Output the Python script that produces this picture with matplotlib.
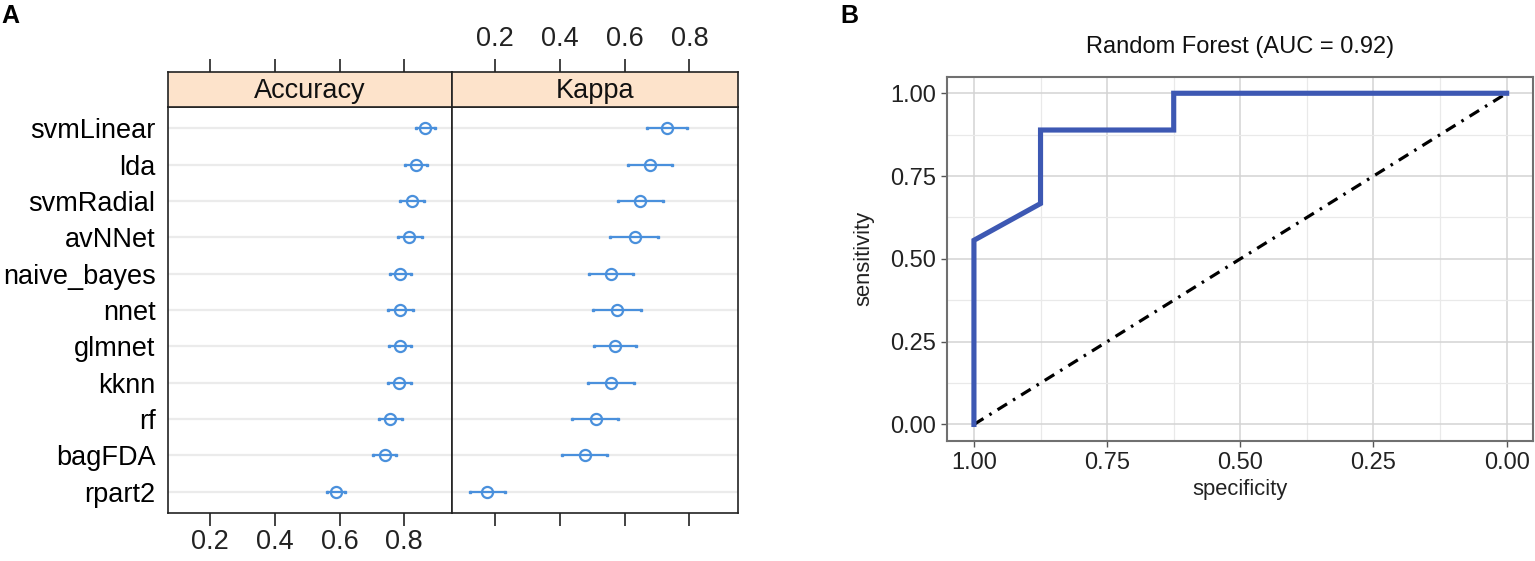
import matplotlib
matplotlib.use("Agg")
import matplotlib.pyplot as plt
from matplotlib.ticker import MultipleLocator

plt.rcParams['font.family'] = ['Liberation Sans', 'DejaVu Sans']

# ---------------- data ----------------
models = ["svmLinear", "lda", "svmRadial", "avNNet", "naive_bayes", "nnet",
          "glmnet", "kknn", "rf", "bagFDA", "rpart2"]
acc_mean = [0.865, 0.838, 0.824, 0.816, 0.788, 0.788, 0.786, 0.784, 0.755, 0.740, 0.590]
acc_low = [0.837, 0.804, 0.787, 0.780, 0.755, 0.750, 0.754, 0.750, 0.721, 0.703, 0.562]
acc_high = [0.896, 0.872, 0.860, 0.854, 0.822, 0.827, 0.821, 0.821, 0.793, 0.775, 0.617]
kap_mean = [0.731, 0.678, 0.649, 0.631, 0.559, 0.577, 0.572, 0.558, 0.511, 0.477, 0.176]
kap_low = [0.670, 0.610, 0.579, 0.556, 0.492, 0.504, 0.507, 0.488, 0.438, 0.406, 0.123]
kap_high = [0.793, 0.746, 0.719, 0.702, 0.626, 0.650, 0.636, 0.629, 0.581, 0.547, 0.232]
metric_names = ["Accuracy", "Kappa"]
metric_ticks = [0.2, 0.4, 0.6, 0.8]

roc_specificity = [1.0, 1.0, 0.875, 0.875, 0.625, 0.625, 0.0]
roc_sensitivity = [0.0, 0.556, 0.667, 0.889, 0.889, 1.0, 1.0]
roc_title = "Random Forest (AUC = 0.92)"
roc_ticks = [0.0, 0.25, 0.5, 0.75, 1.0]

# ---------------- figure ----------------
W, H = 1535, 561
fig = plt.figure(figsize=(W / 100, H / 100), dpi=100)


def fx(px):
    return px / W


def fy(py):
    return 1 - py / H


FS = 19.5
PT_COL = '#4a90dc'
STRIP_COL = '#fde3cb'

panel_x = [(168, 452.3), (452.3, 737.7)]
panel_top, panel_bot = 106.7, 513.3
strip_top = 71.7
xlim = (0.069, 0.949)
n = len(models)
ypos = list(range(1, n + 1))

series = [(acc_mean, acc_low, acc_high), (kap_mean, kap_low, kap_high)]

for k, (x0, x1) in enumerate(panel_x):
    ax = fig.add_axes([fx(x0), fy(panel_bot), fx(x1 - x0), (panel_bot - panel_top) / H])
    sx = fig.add_axes([fx(x0), fy(panel_top), fx(x1 - x0), (panel_top - strip_top) / H])
    mean, low, high = series[k]
    for i, yv in enumerate(ypos):
        ax.axhline(yv, color='#ebebeb', lw=1.6, zorder=1)
        ax.plot([low[i], high[i]], [yv, yv], color=PT_COL, lw=1.6, zorder=2,
                solid_capstyle='butt')
        ax.plot([low[i], high[i]], [yv, yv], ls='none', marker='s', ms=2.0,
                color=PT_COL, zorder=2)
    ax.plot(mean, ypos, ls='none', marker='o', ms=8.0, mfc='none', mec=PT_COL,
            mew=1.6, zorder=3)
    ax.set_xlim(*xlim)
    ax.set_ylim(n + 0.6, 0.4)
    ax.set_xticks(metric_ticks)
    ax.set_yticks(ypos)
    if k == 0:
        ax.set_yticklabels(models, fontsize=FS)
        ax.tick_params(axis='y', length=0, pad=9)
        ax.tick_params(axis='x', direction='out', length=9.6, width=1.2,
                       labelsize=FS, pad=1.5, colors='#222222')
        ax.set_xticklabels([f"{t:.1f}" for t in metric_ticks])
    else:
        ax.set_yticklabels([])
        ax.tick_params(axis='y', length=0)
        ax.tick_params(axis='x', direction='out', length=9.6, width=1.2,
                       labelbottom=False, colors='#222222')
    for sp in ax.spines.values():
        sp.set_color('#222222')
        sp.set_linewidth(1.2)

    # strip
    sx.set_facecolor(STRIP_COL)
    sx.set_xlim(*xlim)
    sx.set_ylim(0, 1)
    sx.set_yticks([])
    sx.set_xticks(metric_ticks)
    sx.tick_params(axis='x', bottom=False, labelbottom=False, top=True,
                   labeltop=(k == 1), direction='out', length=9.6, width=1.2,
                   labelsize=FS, pad=4.5, colors='#222222')
    if k == 1:
        sx.set_xticklabels([f"{t:.1f}" for t in metric_ticks])
    for sp in sx.spines.values():
        sp.set_color('#222222')
        sp.set_linewidth(1.2)
    sx.text(0.5, 0.45, metric_names[k], transform=sx.transAxes, ha='center',
            va='center', fontsize=FS, color='#111111')

# ---------------- ROC panel ----------------
rx0, rx1, ry0, ry1 = 947.3, 1533.3, 76.7, 441
rax = fig.add_axes([fx(rx0), fy(ry1), fx(rx1 - rx0), (ry1 - ry0) / H])
rax.set_xlim(1.05, -0.05)
rax.set_ylim(-0.05, 1.05)
rax.set_xticks(roc_ticks)
rax.set_yticks(roc_ticks)
rax.xaxis.set_minor_locator(MultipleLocator(0.125))
rax.yaxis.set_minor_locator(MultipleLocator(0.125))
rax.grid(which='major', color='#d3d3d3', lw=1.1)
rax.grid(which='minor', color='#e9e9e9', lw=0.9)
rax.set_axisbelow(True)
rax.tick_params(which='minor', length=0)
rax.tick_params(which='major', length=4, width=1.0, color='#555555',
                labelsize=17, labelcolor='#222222', pad=4)
rax.set_xticklabels([f"{t:.2f}" for t in roc_ticks])
rax.set_yticklabels([f"{t:.2f}" for t in roc_ticks])
for sp in rax.spines.values():
    sp.set_color('#707070')
    sp.set_linewidth(1.5)

rax.plot([1, 0], [0, 1], color='black', lw=2.3, dashes=(3.5, 2.2, 0.8, 2.2),
         zorder=2)
rax.plot(roc_specificity, roc_sensitivity, color='#3d58b3', lw=3.7,
         solid_joinstyle='miter', zorder=3)

fig.text(fx((rx0 + rx1) / 2), fy(46.7), roc_title, ha='center', va='center',
         fontsize=17, color='#111111')
fig.text(fx((rx0 + rx1) / 2), fy(489), "specificity", ha='center',
         va='center', fontsize=15.8, color='#222222')
fig.text(fx(864), fy((ry0 + ry1) / 2), "sensitivity", ha='center',
         va='center', rotation=90, fontsize=15.8, color='#222222')

fig.text(fx(1), fy(16), "A", ha='left', va='center', fontsize=18,
         fontweight='bold')
fig.text(fx(840), fy(16), "B", ha='left', va='center', fontsize=18,
         fontweight='bold')

fig.savefig("out.png", dpi=100)
